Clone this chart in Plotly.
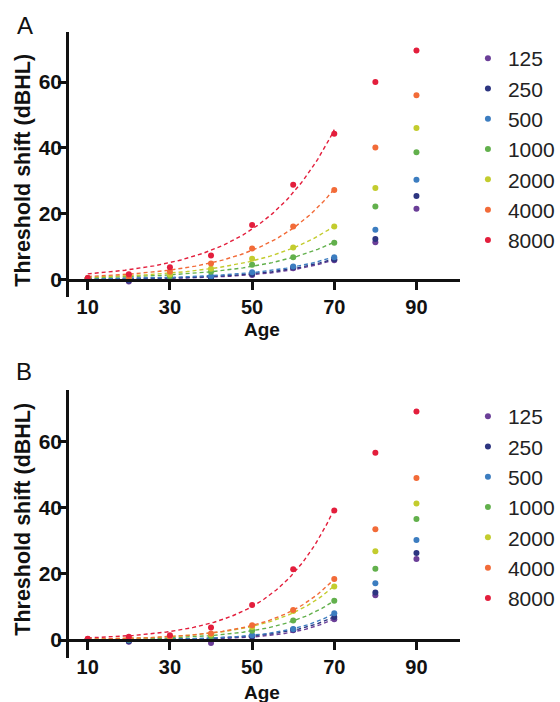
import numpy as np
import plotly.graph_objects as go

ages = [10, 20, 30, 40, 50, 60, 70, 80, 90]
freqs = ["125", "250", "500", "1000", "2000", "4000", "8000"]
colors = ["#6b3f98", "#2d3580", "#3c7dc0", "#62b04c", "#c3cc2e", "#f26b38", "#e31e3c"]

shift_a_125 = [0.3, -0.6, 0.4, 0.5, 1.4, 3.4, 5.9, 11.3, 21.5]
shift_a_250 = [0.3, -0.3, 0.5, 0.7, 1.7, 3.7, 6.2, 12.3, 25.4]
shift_a_500 = [0.4, 0.0, 0.6, 1.0, 2.2, 4.0, 6.8, 15.1, 30.3]
shift_a_1000 = [0.4, 0.3, 1.0, 2.4, 4.5, 6.8, 11.2, 22.2, 38.7]
shift_a_2000 = [0.4, 0.4, 1.5, 3.3, 6.3, 9.7, 16.1, 27.8, 46.0]
shift_a_4000 = [0.4, 0.8, 2.4, 4.9, 9.4, 16.1, 27.2, 40.1, 56.0]
shift_a_8000 = [0.5, 1.6, 3.7, 7.3, 16.6, 28.8, 44.3, 60.0, 69.6]

shift_b_125 = [0.2, -0.5, 0.2, -0.9, 1.0, 3.0, 6.3, 13.6, 24.5]
shift_b_250 = [0.2, -0.3, 0.3, 0.3, 1.2, 3.2, 7.0, 14.4, 26.3]
shift_b_500 = [0.3, 0.0, 0.4, 0.5, 1.5, 3.4, 8.1, 17.2, 30.3]
shift_b_1000 = [0.3, 0.2, 0.7, 1.2, 2.8, 5.9, 11.9, 21.6, 36.6]
shift_b_2000 = [0.3, 0.4, 0.9, 1.7, 4.0, 8.8, 16.2, 26.9, 41.3]
shift_b_4000 = [0.3, 0.5, 1.0, 2.0, 4.5, 9.1, 18.5, 33.5, 49.0]
shift_b_8000 = [0.4, 1.0, 1.5, 3.8, 10.6, 21.4, 39.2, 56.6, 69.1]

panel_a = [shift_a_125, shift_a_250, shift_a_500, shift_a_1000, shift_a_2000, shift_a_4000, shift_a_8000]
panel_b = [shift_b_125, shift_b_250, shift_b_500, shift_b_1000, shift_b_2000, shift_b_4000, shift_b_8000]

FIT_MAX_AGE = 70
FONT = "Liberation Sans, Arial, sans-serif"

W, H = 560, 702
x_range = [5.5, 100.6]
x_dom = [70 / W, 465 / W]
ya_range = [-5.3, 75.2]
ya_dom = [1 - 297 / H, 1 - 32 / H]
yb_range = [-5.4, 75.6]
yb_dom = [1 - 658 / H, 1 - 390 / H]


def exp_fit(x, y):
    x = np.asarray(x, float)
    y = np.asarray(y, float)
    best = None
    for b in np.linspace(0.005, 0.15, 2000):
        e = np.exp(b * x)
        a = (y * e).sum() / (e * e).sum()
        err = ((y - a * e) ** 2).sum()
        if best is None or err < best[0]:
            best = (err, a, b)
    return best[1], best[2]


fig = go.Figure()

for panel, (data, xa, ya, leg) in enumerate([(panel_a, "x", "y", "legend"), (panel_b, "x2", "y2", "legend2")]):
    for f, c, vals in zip(freqs, colors, data):
        fx = [a for a in ages if a <= FIT_MAX_AGE]
        fy = [v for a, v in zip(ages, vals) if a <= FIT_MAX_AGE]
        a_, b_ = exp_fit(fx, fy)
        xs = np.linspace(min(fx), max(fx), 120)
        fig.add_trace(go.Scatter(
            x=xs, y=a_ * np.exp(b_ * xs), mode="lines", xaxis=xa, yaxis=ya,
            line=dict(color=c, width=1.4, dash="4px,3px"), showlegend=False,
            hoverinfo="skip"))
    for f, c, vals in zip(freqs, colors, data):
        fig.add_trace(go.Scatter(
            x=ages, y=vals, mode="markers", name=f, xaxis=xa, yaxis=ya,
            marker=dict(color=c, size=6), legend=leg))


def xpos(dom, rng):
    return dom[0] + (0 - rng[0]) / (rng[1] - rng[0]) * (dom[1] - dom[0])


xtickfont = dict(family=FONT, size=20, color="#111", weight="bold")
ytickfont = dict(family=FONT, size=21, color="#111", weight="bold")
xcommon = dict(range=x_range, domain=x_dom, tickvals=[10, 30, 50, 70, 90],
               showline=True, linewidth=3, linecolor="#111", ticks="outside",
               ticklen=8, tickwidth=3, tickcolor="#111", showgrid=False,
               zeroline=False, tickfont=xtickfont, anchor="free")
ycommon = dict(tickvals=[0, 20, 40, 60], showline=True, linewidth=3,
               linecolor="#111", ticks="outside", ticklen=8, tickwidth=3,
               tickcolor="#111", showgrid=False, zeroline=False,
               tickfont=ytickfont, ticklabelstandoff=-8)

legfont = dict(family=FONT, size=21, color="#222")


def ann(text, x, y, size, bold=False, angle=0):
    f = dict(family=FONT, size=size, color="#111")
    if bold:
        f["weight"] = "bold"
    return dict(text=text, x=x / W, y=1 - y / H, xref="paper", yref="paper",
                xanchor="center", yanchor="middle", showarrow=False,
                textangle=angle, font=f)


fig.update_layout(
    width=W, height=H, margin=dict(l=0, r=0, t=0, b=0),
    paper_bgcolor="white", plot_bgcolor="white",
    xaxis=dict(**xcommon, position=xpos(ya_dom, ya_range)),
    yaxis=dict(**ycommon, range=ya_range, domain=ya_dom, anchor="x"),
    xaxis2=dict(**xcommon, position=xpos(yb_dom, yb_range)),
    yaxis2=dict(**ycommon, range=yb_range, domain=yb_dom, anchor="x2"),
    legend=dict(x=473 / W, y=1 - 38 / H, xanchor="left", yanchor="top",
                font=legfont, bgcolor="rgba(0,0,0,0)"),
    legend2=dict(x=473 / W, y=1 - 396 / H, xanchor="left", yanchor="top",
                 font=legfont, bgcolor="rgba(0,0,0,0)"),
    showlegend=True,
    annotations=[
        ann("A", 25, 25, 24),
        ann("B", 24, 371, 24),
        ann("Threshold shift (dBHL)", 23, 170, 21.5, bold=True, angle=-90),
        ann("Threshold shift (dBHL)", 23, 519, 21.5, bold=True, angle=-90),
        ann("Age", 265, 329, 19, bold=True),
        ann("Age", 265, 692, 19, bold=True),
    ],
)

fig.write_html("out.html")
